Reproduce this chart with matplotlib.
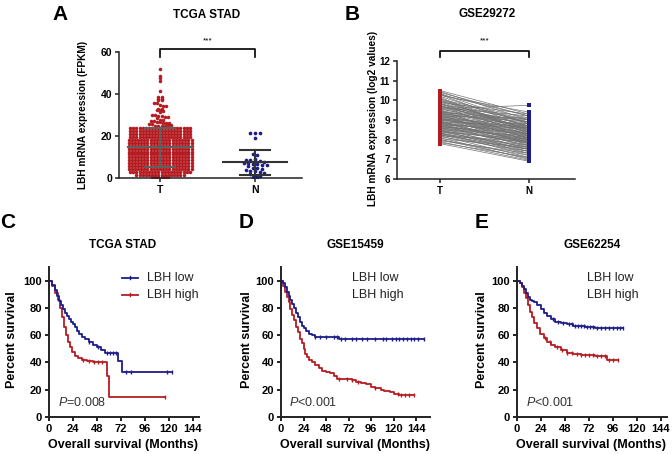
import numpy as np
import matplotlib
matplotlib.use("Agg")
import matplotlib.pyplot as plt

plt.rcParams['font.family'] = ['Liberation Sans', 'DejaVu Sans']
plt.rcParams['mathtext.fontset'] = 'custom'
plt.rcParams['mathtext.it'] = 'Liberation Sans:italic'
plt.rcParams['mathtext.rm'] = 'Liberation Sans'

RED = '#b51c22'
BLUE = '#1d1d8a'

# ---------------- Panel A data (TCGA STAD) ----------------
A_groups = ['T', 'N']
A_T_row_values = [0.4, 1.4, 2.8, 4.2, 5.6, 7.0, 8.4, 9.8, 11.2, 12.6, 14.0, 15.4,
                  16.8, 18.2, 19.6, 21.0, 22.4, 23.8]
A_T_row_counts = [6, 16, 20, 21, 21, 21, 21, 21, 21, 21, 21, 21,
                  21, 21, 20, 20, 20, 20]
A_T_sparse = [52, 48.5, 47.5, 46, 41.5, 38.5, 38.5, 37.5, 37.5, 37, 37, 35.5, 35.5,
              35, 34.5, 34.5, 33, 33, 32.5, 32.5, 32, 31.5, 30, 30, 29.5, 29.5, 29,
              29, 28.5, 27.5, 27.5, 27, 27, 26.5, 26.5, 26, 26, 26, 25.5, 25.5, 25,
              25, 25, 25, 25.2, 25.2]
A_N_values = [21.5, 21.5, 21.5, 19, 11.5, 11, 9, 8.5, 8.5, 8, 8, 7.5, 7, 7, 6.5,
              6.5, 6, 6, 5.5, 5, 5, 4.5, 4, 3.5, 3.5, 3, 2.5, 2, 1.5, 1, 0.5, 0.5]

# ---------------- Panel B data (GSE29272 paired) ----------------
B_T = [10.5, 10.45, 10.4, 10.3, 10.25, 10.2, 10.1, 10.05, 10.0, 9.95, 9.9, 9.85,
       9.8, 9.8, 9.75, 9.7, 9.65, 9.6, 9.56, 9.55, 9.5, 9.45, 9.4, 9.4, 9.35, 9.3,
       9.3, 9.25, 9.2, 9.2, 9.15, 9.1, 9.1, 9.05, 9.0, 9.0, 8.95, 8.9, 8.9, 8.85,
       8.8, 8.8, 8.75, 8.7, 8.7, 8.65, 8.6, 8.6, 8.55, 8.5, 8.5, 8.45, 8.4, 8.4,
       8.35, 8.3, 8.25, 8.2, 8.2, 8.15, 8.1, 8.05, 8.0, 7.95, 7.9, 7.85, 7.8, 9.0,
       8.7, 9.3, 8.5, 9.6, 8.8, 9.1, 9.9, 8.3, 9.4, 8.6, 10.0, 8.9, 10.35, 10.15,
       9.7, 9.5, 9.2, 8.95, 8.75, 8.45, 8.25, 8.0, 9.85, 9.35, 9.05, 8.65, 8.35,
       10.3, 9.75, 9.45, 9.15, 8.85]
B_N = [9.3, 9.0, 9.2, 8.6, 9.4, 8.8, 8.3, 9.1, 8.5, 8.9, 9.3, 8.2, 8.7, 9.0, 8.0,
       8.6, 9.2, 8.4, 9.75, 8.8, 7.9, 8.5, 9.0, 8.2, 8.7, 7.7, 8.9, 8.4, 8.1, 9.1,
       8.6, 7.8, 8.3, 8.8, 8.0, 8.5, 7.6, 8.7, 8.2, 7.9, 8.4, 7.5, 8.6, 8.0, 7.7,
       8.3, 7.4, 8.1, 7.8, 8.2, 7.3, 7.9, 7.6, 8.0, 7.2, 7.7, 7.5, 7.9, 7.1, 7.4,
       7.0, 7.6, 7.2, 7.3, 6.95, 7.1, 6.9, 8.6, 8.1, 8.3, 7.6, 8.9, 7.8, 8.0, 8.7,
       7.4, 8.4, 7.9, 9.0, 7.9, 8.8, 8.4, 8.9, 8.6, 8.3, 7.8, 8.0, 7.5, 7.3, 7.05,
       8.5, 8.1, 8.2, 7.7, 7.5, 9.2, 8.5, 8.7, 8.1, 8.3]

# ---------------- KM data ----------------
C_low_t = [0, 3, 6, 8, 10, 12, 14, 16, 18, 20, 22, 24, 26, 28, 30, 33, 36, 40, 44, 48, 52, 56, 69, 73, 123]
C_low_s = [100, 97, 93, 89, 85, 82, 79, 76, 74, 72, 70, 68, 66, 63, 61, 59, 57, 55, 53, 51, 49, 47, 41, 33, 33]
C_low_c = [40, 49, 58, 61, 64, 67, 77, 82, 118, 123]
C_high_t = [0, 3, 6, 9, 11, 13, 15, 17, 19, 21, 23, 26, 29, 33, 38, 44, 58, 60, 116]
C_high_s = [100, 96, 91, 86, 80, 73, 66, 60, 55, 51, 48, 45, 43, 42, 41, 40, 30, 15, 15]
C_high_c = [34, 40, 45, 49, 53, 116]

D_low_t = [0, 2, 4, 6, 8, 10, 12, 14, 16, 18, 20, 22, 24, 27, 30, 33, 36, 62, 152]
D_low_s = [100, 98, 95, 92, 89, 86, 83, 80, 76, 73, 70, 67, 65, 63, 61, 60, 59, 57.5, 57.5]
D_low_c = [36, 42, 48, 56, 60, 64, 68, 75, 80, 86, 92, 100, 108, 112, 118, 122, 126, 130,
           134, 138, 142, 146, 152]
D_high_t = [0, 2, 4, 6, 8, 10, 12, 14, 16, 18, 20, 22, 24, 26, 28, 30, 33, 36, 40, 44, 48,
            52, 56, 60, 75, 80, 85, 90, 96, 100, 106, 110, 116, 120, 126, 142]
D_high_s = [100, 96, 92, 88, 84, 79, 75, 71, 66, 62, 57, 54, 50, 46, 44, 42, 40, 38, 36,
            34, 33, 32, 30, 28, 27, 26, 25, 24, 22, 21, 20, 19, 18, 17, 16, 16]
D_high_c = [62, 70, 75, 82, 100, 124, 128, 132, 136, 142]

E_low_t = [0, 3, 5, 7, 9, 11, 13, 15, 17, 20, 24, 27, 30, 34, 38, 44, 50, 56, 62, 68, 78, 106]
E_low_s = [100, 98, 96, 94, 91, 88, 86, 85, 84, 82, 79, 76, 74, 72, 70, 69, 68, 67, 66.5, 66, 65, 65]
E_low_c = [36, 41, 46, 52, 55, 58, 61, 64, 67, 70, 73, 76, 80, 84, 88, 92, 96, 100, 103, 106]
E_high_t = [0, 3, 5, 7, 9, 11, 13, 15, 17, 20, 23, 27, 30, 34, 38, 44, 50, 56, 64, 78, 90, 101]
E_high_s = [100, 98, 95, 91, 87, 82, 77, 73, 69, 65, 61, 58, 55, 53, 51, 49, 47, 46, 45.5, 45, 42, 42]
E_high_c = [28, 33, 40, 45, 50, 55, 60, 64, 68, 72, 76, 80, 84, 88, 92, 96, 101]

KM_xticks = [0, 24, 48, 72, 96, 120, 144]
KM_yticks = [0, 20, 40, 60, 80, 100]

W, H = 672, 454
fig = plt.figure(figsize=(W / 100, H / 100), dpi=100)


def axes_px(left, top, right, bottom):
    return fig.add_axes([left / W, 1 - bottom / H, (right - left) / W, (bottom - top) / H])


def ftext(x, y, s, **kw):
    kw.setdefault('ha', 'center')
    kw.setdefault('va', 'center')
    return fig.text(x / W, 1 - y / H, s, **kw)


def style_axes(ax, lw=1.1, fs=7.5):
    for sp in ['top', 'right']:
        ax.spines[sp].set_visible(False)
    for sp in ['left', 'bottom']:
        ax.spines[sp].set_linewidth(lw)
        ax.spines[sp].set_color('#222222')
    ax.tick_params(direction='out', length=3, width=lw, color='#222222',
                   labelsize=fs, pad=2)
    for lab in ax.get_xticklabels() + ax.get_yticklabels():
        lab.set_fontweight('bold')


def swarm_offsets(vals, binw, spacing):
    vals = np.asarray(vals, dtype=float)
    keys = np.round(vals / binw)
    off = np.zeros(len(vals))
    for k in np.unique(keys):
        idx = np.where(keys == k)[0]
        n = len(idx)
        pos = (np.arange(n) - (n - 1) / 2) * spacing
        off[idx] = pos
    return off


# ---------------- Panel A ----------------
axA = axes_px(119, 52, 302, 178)
pxu = 95.0
axA.set_xlim(-41 / pxu, 142 / pxu)
axA.set_ylim(0, 60)
T_vals = np.concatenate([np.repeat(A_T_row_values, A_T_row_counts), A_T_sparse])
N_vals = np.array(A_N_values)
tx = swarm_offsets(T_vals, 1.4, 3.15 / pxu)
axA.scatter(tx, T_vals, s=6.5, color=RED, linewidths=0, zorder=2)
nx = swarm_offsets(N_vals, 1.6, 4.6 / pxu)
axA.scatter(1 + nx, N_vals, s=7, marker='o', color=BLUE, linewidths=0, zorder=2)
for xc, v, col in [(0, T_vals, '#5f5f5f'), (1, N_vals, '#333333')]:
    m, sd = np.mean(v), np.std(v, ddof=1)
    axA.plot([xc - 32 / pxu, xc + 32 / pxu], [m, m], color=col, lw=1.5, zorder=3)
    axA.plot([xc, xc], [m - sd, m + sd], color=col, lw=1.5, zorder=3)
    for yy in (m - sd, m + sd):
        axA.plot([xc - 15 / pxu, xc + 15 / pxu], [yy, yy], color=col, lw=1.5, zorder=3)
axA.plot([0, 0, 1, 1], [57.6, 61.4, 61.4, 57.6], color='black', lw=1.2, clip_on=False)
axA.text(0.5, 65.5, '***', ha='center', va='center', fontsize=6)
axA.set_xticks([0, 1])
axA.set_xticklabels(A_groups)
axA.set_yticks([0, 20, 40, 60])
style_axes(axA, fs=7.5)
ftext(83, 115, 'LBH mRNA expression (FPKM)', rotation=90, fontsize=7.3, fontweight='bold')
ftext(60, 14, 'A', fontsize=15, fontweight='bold')
ftext(207, 15, 'TCGA STAD', fontsize=8.5, fontweight='bold')

# ---------------- Panel B ----------------
axB = axes_px(397, 61, 575, 179)
pxb = 89.0
axB.set_xlim(-43 / pxb, 135 / pxb)
axB.set_ylim(6, 12)
for t, n in zip(B_T, B_N):
    axB.plot([0, 1], [t, n], color='#747474', lw=0.5, zorder=1)
axB.scatter(np.zeros(len(B_T)), B_T, s=5, marker='s', color=RED, linewidths=0, zorder=2)
axB.scatter(np.ones(len(B_N)), B_N, s=5, marker='s', color=BLUE, linewidths=0, zorder=2)
axB.plot([0, 0, 1, 1], [12.2, 12.51, 12.51, 12.2], color='black', lw=1.2, clip_on=False)
axB.text(0.5, 13.0, '***', ha='center', va='center', fontsize=6)
axB.set_xticks([0, 1])
axB.set_xticklabels(A_groups)
axB.set_yticks([6, 7, 8, 9, 10, 11, 12])
style_axes(axB, fs=7)
ftext(373, 118, 'LBH mRNA expression (log2 values)', rotation=90, fontsize=7.3, fontweight='bold')
ftext(352, 14, 'B', fontsize=15, fontweight='bold')
ftext(487, 14, 'GSE29272', fontsize=8.5, fontweight='bold')


# ---------------- KM panels ----------------
def km(ax, t, s, c, col):
    t = np.asarray(t, float)
    s = np.asarray(s, float)
    ax.step(t, s, where='post', color=col, lw=1.3, zorder=2, clip_on=False)
    c = np.asarray(c, float)
    idx = np.searchsorted(t, c, side='right') - 1
    ax.plot(c, s[idx], linestyle='none', marker='|', markersize=3.5, mew=1.0,
            color=col, zorder=3, clip_on=False)


panels = [
    dict(left=49, right=199, xmax=150, title='TCGA STAD', tx=123, letter='C', lx=8,
         low=(C_low_t, C_low_s, C_low_c), high=(C_high_t, C_high_s, C_high_c),
         p='=0.008', px=58, legx=147, legline=True, ylx=12, xlx=123),
    dict(left=281, right=430, xmax=158.5, title='GSE15459', tx=355, letter='D', lx=246,
         low=(D_low_t, D_low_s, D_low_c), high=(D_high_t, D_high_s, D_high_c),
         p='<0.001', px=289, legx=352, legline=False, ylx=247, xlx=355),
    dict(left=517, right=667, xmax=150, title='GSE62254', tx=592, letter='E', lx=482,
         low=(E_low_t, E_low_s, E_low_c), high=(E_high_t, E_high_s, E_high_c),
         p='<0.001', px=526, legx=587, legline=False, ylx=482, xlx=591),
]

for P in panels:
    ax = axes_px(P['left'], 267, P['right'], 417)
    ax.set_xlim(0, P['xmax'])
    ax.set_ylim(0, 110)
    km(ax, *P['high'], RED)
    km(ax, *P['low'], BLUE)
    ax.set_xticks(KM_xticks)
    ax.set_yticks(KM_yticks)
    style_axes(ax, lw=1.4, fs=8)
    ftext(P['ylx'], 340, 'Percent survival', rotation=90, fontsize=9, fontweight='bold')
    ftext(P['xlx'], 445, 'Overall survival (Months)', fontsize=9, fontweight='bold')
    ftext(P['tx'], 245, P['title'], fontsize=8.5, fontweight='bold')
    ftext(P['lx'], 222, P['letter'], fontsize=15, fontweight='bold')
    ftext(P['px'], 402, r'$\mathit{P}$' + P['p'], ha='left', fontsize=9, color='#333333')
    ftext(P['legx'], 278, 'LBH low', ha='left', fontsize=9, color='#222222')
    ftext(P['legx'], 295, 'LBH high', ha='left', fontsize=9, color='#222222')
    if P['legline']:
        for yy, col in [(278, BLUE), (295, RED)]:
            fig.add_artist(plt.Line2D([122 / W, 138 / W], [1 - yy / H, 1 - yy / H],
                                      color=col, lw=1.3))
            fig.add_artist(plt.Line2D([130 / W, 130 / W], [1 - (yy - 2) / H, 1 - (yy + 1) / H],
                                      color=col, lw=1.0))

fig.savefig('out.png', dpi=100)
